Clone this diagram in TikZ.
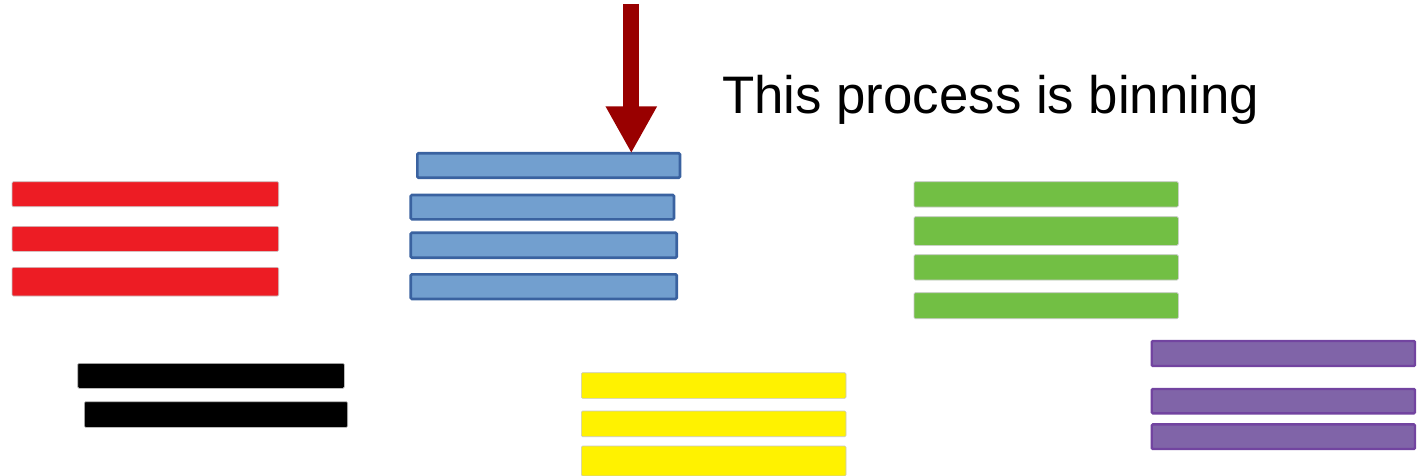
\documentclass[tikz,border=0pt]{standalone}
\usepackage{fontspec}
\setmainfont{Liberation Sans}
\usetikzlibrary{arrows.meta}
\definecolor{cred}{HTML}{ED1C24}
\definecolor{cyellow}{HTML}{FFF200}
\definecolor{cgreen}{HTML}{72BF44}
\definecolor{cbluef}{HTML}{729FCF}
\definecolor{cblued}{HTML}{3A62A0}
\definecolor{cpurf}{HTML}{8064A8}
\definecolor{cpurd}{HTML}{7244A0}
\definecolor{carrow}{HTML}{990000}
\tikzset{
  bar/.style={rectangle, inner sep=0pt, outer sep=0pt, rounded corners=1.2pt},
  plainbar/.style={bar, fill=#1, draw=black!22, line width=0.6pt},
  bluebar/.style={bar, fill=cbluef, draw=cblued, line width=2.6pt},
  purbar/.style={bar, fill=cpurf, draw=cpurd, line width=2.4pt},
  bigarrow/.style={draw=carrow, line width=16pt, -{Triangle[width=48pt,length=47pt]}},
  label/.style={inner sep=0pt, font=\fontsize{52.8}{60}\selectfont}
}
\begin{document}
\begin{tikzpicture}[x=1pt,y=-1pt]
\useasboundingbox (0,0) rectangle (1424,476);
% red
\node[plainbar=cred, minimum width=266.7pt, minimum height=25pt] (r1) at (145.35,194.2) {};
\node[plainbar=cred, minimum width=266.7pt, minimum height=25pt] (r2) at (145.35,238.8) {};
\node[plainbar=cred, minimum width=266.7pt, minimum height=28.7pt] (r3) at (145.35,281.65) {};
% black
\node[plainbar=black, minimum width=266.6pt, minimum height=25pt] (k1) at (211,375.8) {};
\node[plainbar=black, minimum width=263.4pt, minimum height=25.6pt] (k2) at (216,414.5) {};
% blue
\node[bluebar, minimum width=262.7pt, minimum height=24.4pt] (b1) at (548.65,165.5) {};
\node[bluebar, minimum width=263.3pt, minimum height=24.3pt] (b2) at (542.35,207.15) {};
\node[bluebar, minimum width=266pt, minimum height=25pt] (b3) at (543.7,245.2) {};
\node[bluebar, minimum width=266pt, minimum height=24.7pt] (b4) at (543.7,286.65) {};
% yellow
\node[plainbar=cyellow, minimum width=264.7pt, minimum height=25.6pt] (y1) at (713.65,385.5) {};
\node[plainbar=cyellow, minimum width=264.7pt, minimum height=25.7pt] (y2) at (713.65,423.85) {};
\node[plainbar=cyellow, minimum width=264.7pt, minimum height=30pt] (y3) at (713.65,461) {};
% green
\node[plainbar=cgreen, minimum width=264.3pt, minimum height=25.3pt] (g1) at (1046.15,194.35) {};
\node[plainbar=cgreen, minimum width=264.3pt, minimum height=28.6pt] (g2) at (1046.15,231) {};
\node[plainbar=cgreen, minimum width=264.3pt, minimum height=25.3pt] (g3) at (1046.15,267.35) {};
\node[plainbar=cgreen, minimum width=264.3pt, minimum height=26pt] (g4) at (1046.15,305.7) {};
% purple
\node[purbar, minimum width=263.3pt, minimum height=25pt] (p1) at (1283.35,353.5) {};
\node[purbar, minimum width=263.3pt, minimum height=24.3pt] (p2) at (1283.35,401.15) {};
\node[purbar, minimum width=263.3pt, minimum height=24.7pt] (p3) at (1283.35,436.65) {};
% arrow
\coordinate (atop) at (631.3,4);
\draw[bigarrow] (atop) -- (b1.north -| atop);
% text
\node[label, anchor=base west] (txt) at (722,114) {This process is binning};
\end{tikzpicture}
\end{document}
